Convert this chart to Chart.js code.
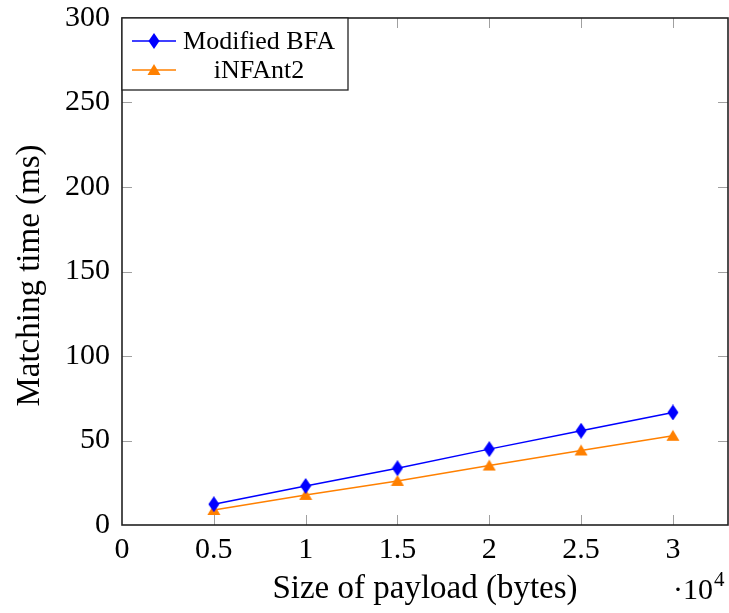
<!DOCTYPE html>
<html lang="en">
<head>
    <meta charset="UTF-8">
    <title>Matching time vs payload size</title>
    <script src="https://cdn.jsdelivr.net/npm/chart.js"></script>
    <style>
        html, body { margin: 0; padding: 0; background: #fff; }
        #chart { display: block; }
    </style>
</head>
<body>
    <canvas id="chart" width="729" height="613"></canvas>
    <script>
        // Data
        const payloadSizes = [5000, 10000, 15000, 20000, 25000, 30000];
        const bfaTimes = [12.3, 23.1, 33.6, 44.9, 55.8, 66.6];
        const infantTimes = [8.9, 17.8, 26.1, 35.2, 44.1, 52.8];
        const seriesNames = ['Modified BFA', 'iNFAnt2'];
        const xTickValues = [0, 5000, 10000, 15000, 20000, 25000, 30000];
        const yTickValues = [0, 50, 100, 150, 200, 250, 300];

        const BLUE = 'rgb(0, 0, 255)';
        const ORANGE = 'rgb(255, 128, 0)';
        const SERIF = '"Liberation Serif", "DejaVu Serif", serif';

        // marker shapes (pgfplots style: tall diamond, triangle)
        function makeDiamond(color) {
            const c = document.createElement('canvas');
            c.width = 12; c.height = 16;
            const g = c.getContext('2d');
            g.fillStyle = color;
            g.beginPath();
            g.moveTo(6, 0); g.lineTo(11.5, 8); g.lineTo(6, 16); g.lineTo(0.5, 8);
            g.closePath(); g.fill();
            return c;
        }
        function makeTriangle(color) {
            const c = document.createElement('canvas');
            c.width = 14; c.height = 14;
            const g = c.getContext('2d');
            g.fillStyle = color;
            g.beginPath();
            g.moveTo(7, 1); g.lineTo(13.5, 12); g.lineTo(0.5, 12);
            g.closePath(); g.fill();
            return c;
        }
        const diamond = makeDiamond(BLUE);
        const triangle = makeTriangle(ORANGE);

        function toPoints(xs, ys) {
            return xs.map((x, i) => ({ x: x, y: ys[i] }));
        }

        // box, inward ticks, legend, titles
        const decorations = {
            id: 'decorations',
            afterDraw(chart) {
                const ctx = chart.ctx;
                const a = chart.chartArea;
                const xs = chart.scales.x, ys = chart.scales.y;
                ctx.save();

                // tick marks inside, on all four sides
                ctx.strokeStyle = '#a0a0a0';
                ctx.lineWidth = 1;
                ctx.beginPath();
                xTickValues.slice(1).forEach(v => {
                    const px = Math.round(xs.getPixelForValue(v)) + 0.5;
                    ctx.moveTo(px, a.bottom); ctx.lineTo(px, a.bottom - 10);
                    ctx.moveTo(px, a.top); ctx.lineTo(px, a.top + 10);
                });
                yTickValues.slice(1, -1).forEach(v => {
                    const py = Math.round(ys.getPixelForValue(v)) + 0.5;
                    ctx.moveTo(a.left, py); ctx.lineTo(a.left + 10, py);
                    ctx.moveTo(a.right, py); ctx.lineTo(a.right - 10, py);
                });
                ctx.stroke();

                // axis box
                ctx.strokeStyle = '#222';
                ctx.lineWidth = 1.6;
                ctx.strokeRect(a.left, a.top, a.right - a.left, a.bottom - a.top);

                // legend
                const lx = a.left, ly = a.top;
                ctx.fillStyle = '#fff';
                ctx.fillRect(lx, ly, 226, 72);
                ctx.strokeStyle = '#222';
                ctx.lineWidth = 1.3;
                ctx.strokeRect(lx, ly, 226, 72);
                const rows = [
                    { name: seriesNames[0], color: BLUE, mark: diamond, y: ly + 23 },
                    { name: seriesNames[1], color: ORANGE, mark: triangle, y: ly + 52 }
                ];
                ctx.font = '26px ' + SERIF;
                ctx.textAlign = 'center';
                ctx.textBaseline = 'middle';
                rows.forEach(r => {
                    ctx.strokeStyle = r.color;
                    ctx.lineWidth = 1.5;
                    ctx.beginPath();
                    ctx.moveTo(lx + 10, r.y); ctx.lineTo(lx + 54, r.y);
                    ctx.stroke();
                    ctx.drawImage(r.mark, lx + 32 - r.mark.width / 2, r.y - r.mark.height / 2);
                    ctx.fillStyle = '#000';
                    ctx.fillText(r.name, lx + 137, r.y + 1);
                });

                // axis titles
                ctx.fillStyle = '#000';
                ctx.font = '33px ' + SERIF;
                ctx.textAlign = 'center';
                ctx.textBaseline = 'middle';
                ctx.fillText('Size of payload (bytes)', (a.left + a.right) / 2, 589);
                ctx.save();
                ctx.translate(30, (a.top + a.bottom) / 2 + 4);
                ctx.rotate(-Math.PI / 2);
                ctx.fillText('Matching time (ms)', 0, 0);
                ctx.restore();

                // scale factor ·10^4
                ctx.textAlign = 'left';
                ctx.font = '30px ' + SERIF;
                ctx.fillText('\u00b710', 673, 591);
                const w = ctx.measureText('\u00b710').width;
                ctx.font = '21px ' + SERIF;
                ctx.fillText('4', 673 + w + 1, 580);

                ctx.restore();
            }
        };

        new Chart(document.getElementById('chart'), {
            type: 'line',
            data: {
                datasets: [
                    {
                        label: seriesNames[0],
                        data: toPoints(payloadSizes, bfaTimes),
                        borderColor: BLUE,
                        backgroundColor: BLUE,
                        borderWidth: 1.5,
                        pointStyle: diamond,
                        pointRadius: 8,
                        tension: 0
                    },
                    {
                        label: seriesNames[1],
                        data: toPoints(payloadSizes, infantTimes),
                        borderColor: ORANGE,
                        backgroundColor: ORANGE,
                        borderWidth: 1.5,
                        pointStyle: triangle,
                        pointRadius: 7,
                        tension: 0
                    }
                ]
            },
            options: {
                responsive: false,
                animation: false,
                layout: {
                    autoPadding: false,
                    padding: { left: 0, right: 1, top: 18, bottom: 0 }
                },
                plugins: {
                    legend: { display: false },
                    tooltip: { enabled: false }
                },
                scales: {
                    x: {
                        type: 'linear',
                        min: 0,
                        max: 33000,
                        grid: { display: false, drawTicks: false },
                        border: { display: false },
                        afterFit(scale) {
                            scale.height = 88;
                            scale.paddingLeft = 0;
                            scale.paddingRight = 0;
                        },
                        afterBuildTicks(scale) {
                            scale.ticks = xTickValues.map(v => ({ value: v }));
                        },
                        ticks: {
                            color: '#000',
                            padding: 7,
                            maxRotation: 0,
                            font: { family: SERIF, size: 30 },
                            callback: v => String(v / 10000)
                        }
                    },
                    y: {
                        min: 0,
                        max: 300,
                        grid: { display: false, drawTicks: false },
                        border: { display: false },
                        afterFit(scale) {
                            scale.width = 122;
                            scale.paddingTop = 0;
                            scale.paddingBottom = 0;
                        },
                        afterBuildTicks(scale) {
                            scale.ticks = yTickValues.map(v => ({ value: v }));
                        },
                        ticks: {
                            color: '#000',
                            padding: 12,
                            font: { family: SERIF, size: 30 }
                        }
                    }
                }
            },
            plugins: [decorations]
        });
    </script>
</body>
</html>
